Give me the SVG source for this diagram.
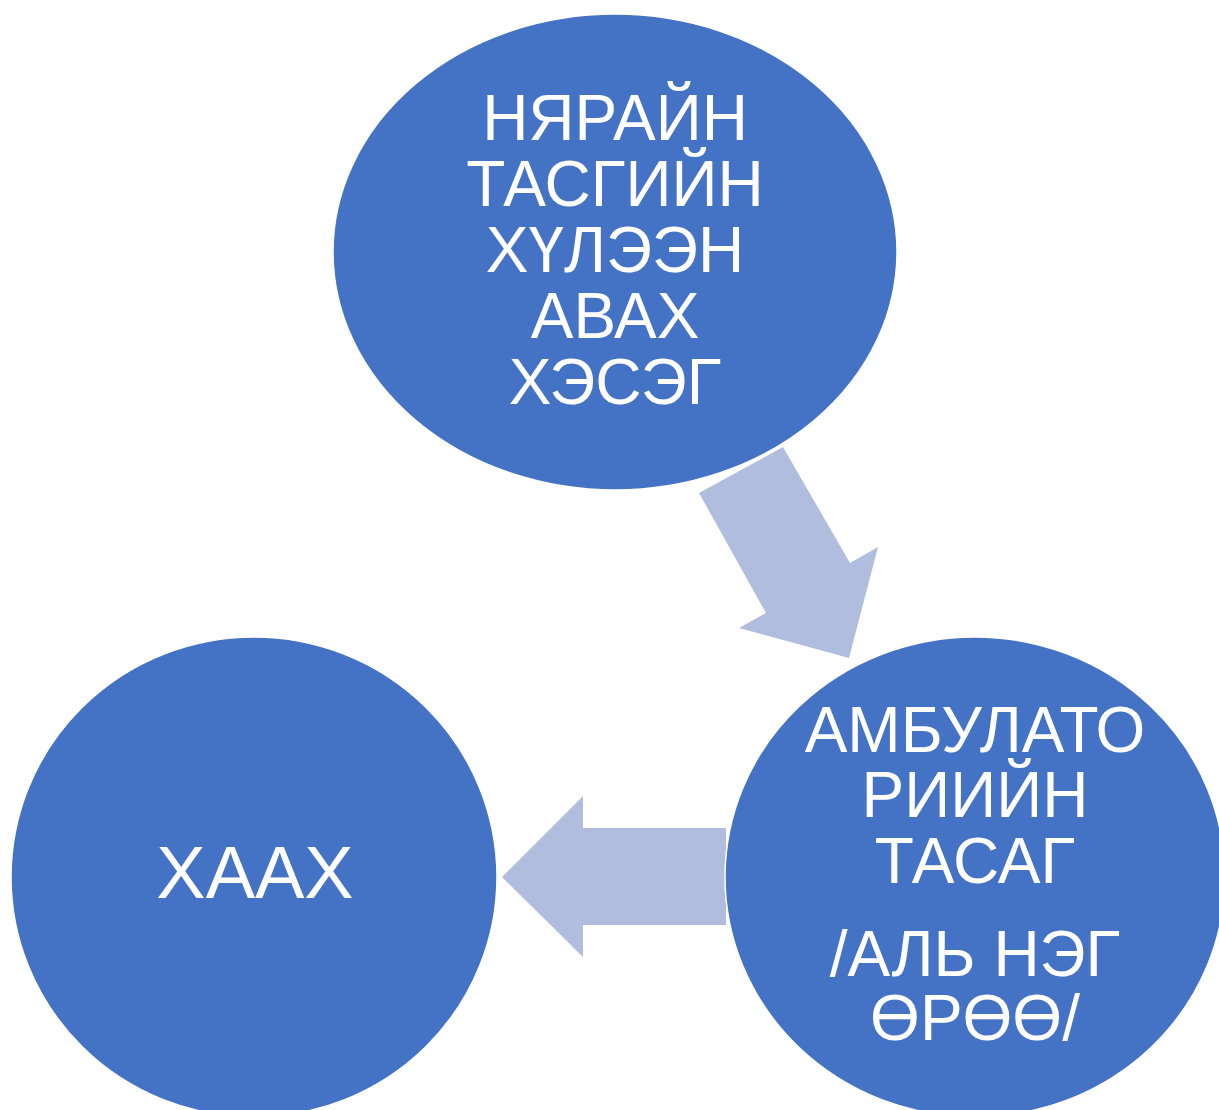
<svg xmlns="http://www.w3.org/2000/svg" width="1219" height="1110" viewBox="0 0 1219 1110">
<style>
.node{fill:#4472C4;stroke:#FFFFFF;stroke-width:1.5}
.arrow{fill:#B0BDDF}
.t{font-family:"Liberation Sans",Arial,sans-serif;font-size:64px;fill:#FFFFFF;text-anchor:middle}
.big{font-size:74px}
</style>
<rect width="1219" height="1110" fill="#FFFFFF"/>
<g id="node-top">
<ellipse class="node" cx="615" cy="252" rx="282" ry="238"/>
<text class="t"><tspan x="615" y="140">НЯРАЙН</tspan><tspan x="615" y="206">ТАСГИЙН</tspan><tspan x="615" y="272">ХҮЛЭЭН</tspan><tspan x="615" y="338">АВАХ</tspan><tspan x="615" y="404">ХЭСЭГ</tspan></text>
</g>
<g id="connectors">
<polygon class="arrow" points="699,493 783,447 850,563 878,547 849,658 739,628 766,613"/>
<polygon class="arrow" points="726,828 583,828 583,796 502,877 583,957 583,925 726,925"/>
</g>
<g id="node-right">
<ellipse class="node" cx="975" cy="877" rx="250" ry="240"/>
<text class="t"><tspan x="975" y="752">АМБУЛАТО</tspan><tspan x="975" y="817">РИИЙН</tspan><tspan x="975" y="883">ТАСАГ</tspan><tspan x="975" y="976">/АЛЬ НЭГ</tspan><tspan x="975" y="1040">ӨРӨӨ/</tspan></text>
</g>
<g id="node-left">
<ellipse class="node" cx="254" cy="877" rx="243" ry="240"/>
<text class="t big" x="255" y="898">ХААХ</text>
</g>
</svg>
